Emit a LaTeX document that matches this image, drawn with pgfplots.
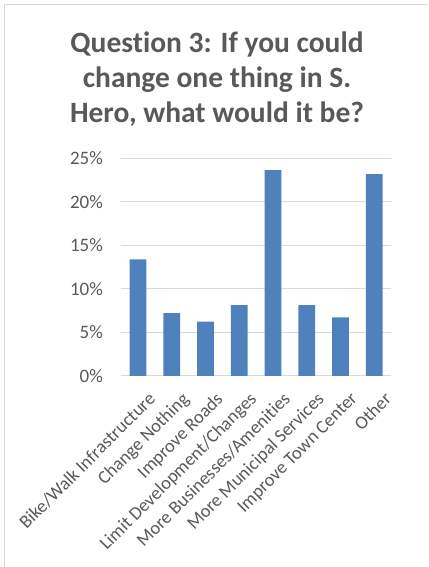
\documentclass[border=0pt]{standalone}
\usepackage{pgfplots}
\pgfplotsset{compat=1.18}
\usepackage{fontspec}
\setmainfont{Carlito}[Ligatures=NoCommon]
\definecolor{barblue}{HTML}{4F81BD}
\definecolor{txtgray}{HTML}{595959}
\definecolor{gridgray}{HTML}{D9D9D9}
\begin{document}
\begin{tikzpicture}[x=1bp,y=1bp]
\path[use as bounding box] (0,0) rectangle (428,567);
\draw[gridgray, line width=1bp] (4.5,0) -- (4.5,562.5) -- (428,562.5);
\node[anchor=base, text=txtgray, font=\fontsize{29.5bp}{34bp}\selectfont\bfseries] at (217,514.5) {Question 3: If you could};
\node[anchor=base, text=txtgray, font=\fontsize{29.5bp}{34bp}\selectfont\bfseries] at (217,479.5) {change one thing in S.};
\node[anchor=base, text=txtgray, font=\fontsize{29.5bp}{34bp}\selectfont\bfseries] at (217,444.5) {Hero, what would it be?};
\begin{axis}[
  at={(138bp,191bp)}, anchor=origin,
  scale only axis,
  width=270bp, height=217.7bp,
  xmin=-0.5, xmax=7.5,
  ymin=0, ymax=25,
  ytick={0,5,10,15,20,25},
  yticklabel={\pgfmathprintnumber{\tick}\%},
  ymajorgrids,
  grid style={gridgray, line width=1bp},
  axis line style={draw=none},
  major tick length=0pt,
  xtick={0,...,7},
  xticklabels={Bike/Walk Infrastructure, Change Nothing, Improve Roads, Limit Development/Changes, More Businesses/Amenities, More Municipal Services, Improve Town Center, Other},
  tick label style={text=txtgray, font=\fontsize{19bp}{22bp}\selectfont},
  xticklabel style={font=\fontsize{18.5bp}{22bp}\selectfont},
  /pgf/number format/assume math mode=true,
  yticklabel style={anchor=east, inner sep=0pt, xshift=-18bp},
  xticklabel style={rotate=45, anchor=north east, inner sep=0pt, xshift=-4bp, yshift=-17bp},
  ybar, bar width=16.7bp,
  clip=false,
]
\draw[gridgray, line width=1bp] (axis cs:-0.5,0) -- (axis cs:7.5,0);
\addplot[fill=barblue, draw=none] coordinates {(0,13.4) (1,7.23) (2,6.24) (3,8.15) (4,23.65) (5,8.15) (6,6.74) (7,23.19)};
\end{axis}
\end{tikzpicture}
\end{document}
